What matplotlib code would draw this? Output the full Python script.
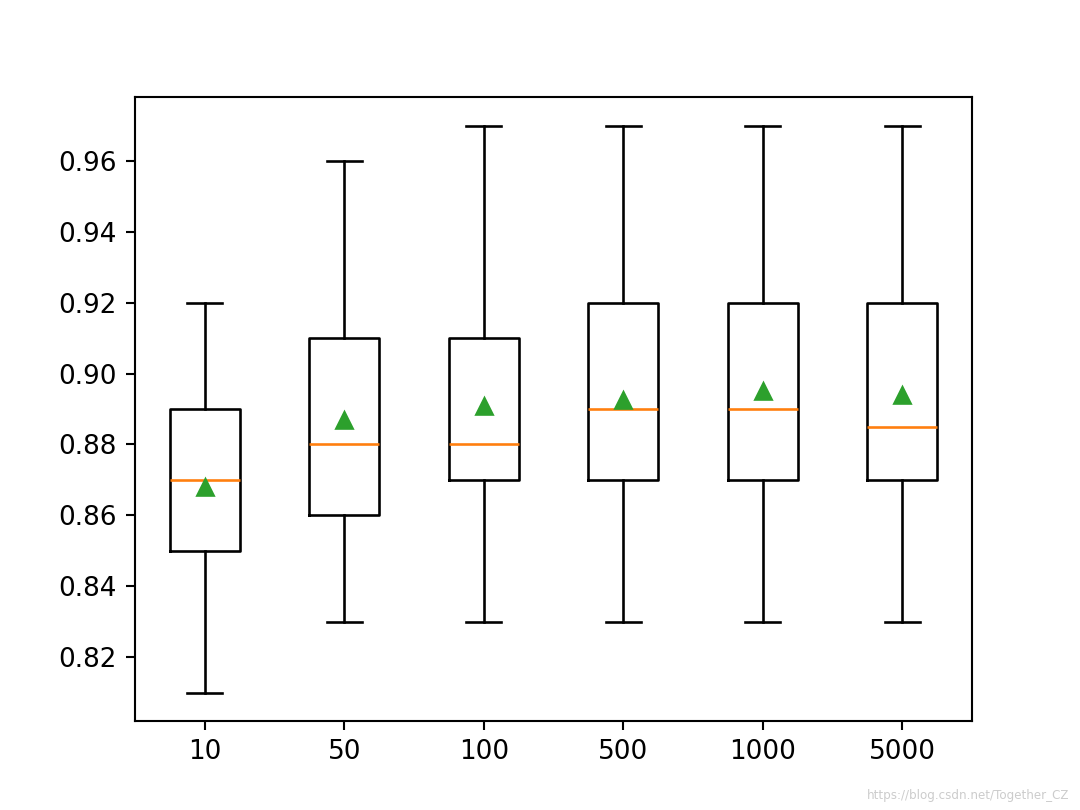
import matplotlib
matplotlib.use('Agg')
import matplotlib.pyplot as plt

labels = ['10', '50', '100', '500', '1000', '5000']
whislo = [0.81, 0.83, 0.83, 0.83, 0.83, 0.83]
q1 = [0.85, 0.86, 0.87, 0.87, 0.87, 0.87]
med = [0.87, 0.88, 0.88, 0.89, 0.89, 0.885]
q3 = [0.89, 0.91, 0.91, 0.92, 0.92, 0.92]
whishi = [0.92, 0.96, 0.97, 0.97, 0.97, 0.97]
means = [0.868, 0.887, 0.891, 0.8925, 0.895, 0.894]

stats = []
for i in range(len(labels)):
    stats.append({'label': labels[i], 'whislo': whislo[i], 'q1': q1[i], 'med': med[i],
                  'q3': q3[i], 'whishi': whishi[i], 'mean': means[i], 'fliers': []})

# 5.714x4.286 in at 189 dpi -> 1080x810 px
fig, ax = plt.subplots(figsize=(1080 / 189, 810 / 189), dpi=189)
ax.bxp(stats, showmeans=True)
fig.text(0.99, 0.01, 'https://blog.csdn.net/Together_CZ', ha='right', va='bottom',
         fontsize=4.5, color='#cccccc')
fig.savefig('out.png')
